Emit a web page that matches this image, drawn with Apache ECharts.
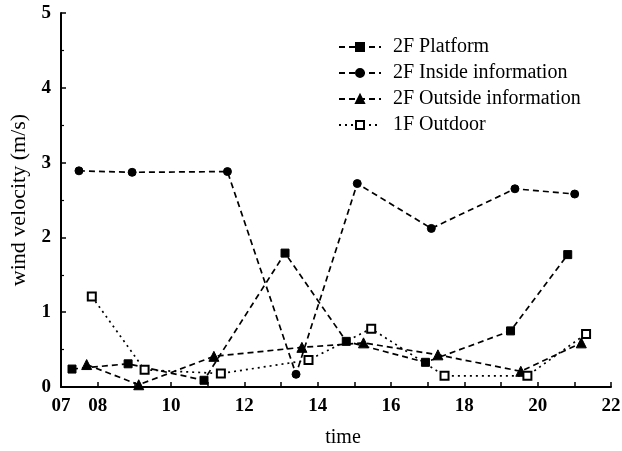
<!DOCTYPE html>
<html lang="en">
<head>
  <meta charset="UTF-8" />
  <script src="https://cdn.jsdelivr.net/npm/echarts@6/dist/echarts.min.js"></script>
  <title>wind velocity</title>
  <style>
    body { margin: 0; background: #fff; }
  </style>
</head>
<body>
  <div id="main" style="width: 622px; height: 451px;"></div>
  <script type="text/javascript">
    // x = time of day (h), y = wind velocity (m/s)
    var platform = [[7.30, 0.24], [8.83, 0.31], [10.90, 0.09], [13.11, 1.79], [14.78, 0.61], [16.94, 0.33], [19.26, 0.75], [20.82, 1.77]];
    var inside = [[7.49, 2.89], [8.94, 2.87], [11.54, 2.88], [13.41, 0.17], [15.08, 2.72], [17.10, 2.12], [19.38, 2.65], [21.01, 2.58]];
    var outside = [[7.70, 0.30], [9.12, 0.03], [11.17, 0.41], [13.57, 0.53], [15.25, 0.59], [17.28, 0.43], [19.54, 0.21], [21.19, 0.59]];
    var outdoor = [[7.84, 1.21], [9.28, 0.23], [11.36, 0.18], [13.75, 0.36], [15.46, 0.78], [17.46, 0.15], [19.72, 0.15], [21.32, 0.71]];
    var seriesNames = ["2F Platform", "2F Inside information", "2F Outside information", "1F Outdoor"];

    var serif = "Liberation Serif";

    function lineSeries(name, data, symbol, size, dash) {
      return {
        name: name,
        type: "line",
        data: data,
        symbol: symbol,
        symbolSize: size,
        itemStyle: { color: "#000", borderColor: "#000", borderWidth: 1 },
        lineStyle: { color: "#000", width: 1.7, type: dash },
        emphasis: { disabled: true },
        z: 3
      };
    }

    var myChart = echarts.init(document.getElementById("main"));
    myChart.setOption({
      animation: false,
      grid: { left: 61, right: 11, top: 13, bottom: 64, containLabel: false, outerBoundsMode: "none" },
      legend: {
        orient: "vertical",
        left: 333,
        top: 32,
        itemWidth: 42,
        itemHeight: 10,
        itemGap: 6,
        data: seriesNames,
        textStyle: { fontFamily: serif, fontSize: 20, color: "#000", padding: [0, 0, 0, 7] }
      },
      xAxis: {
        type: "value",
        min: 7,
        max: 22,
        interval: 1,
        name: "time",
        nameLocation: "middle",
        nameGap: 41,
        nameTextStyle: { fontFamily: serif, fontSize: 20, color: "#000", padding: [0, 0, 0, 14] },
        axisLine: { lineStyle: { color: "#000", width: 2 } },
        axisTick: { inside: true, length: 5, lineStyle: { color: "#000", width: 1.5 } },
        splitLine: { show: false },
        axisLabel: {
          fontFamily: serif,
          fontSize: 19,
          fontWeight: "bold",
          color: "#000",
          margin: 10,
          formatter: function (v) {
            if (v === 7) return "07";
            if (v === 8) return "08";
            return v % 2 === 0 ? String(v) : "";
          }
        }
      },
      yAxis: {
        type: "value",
        min: 0,
        max: 5,
        interval: 1,
        name: "wind velocity (m/s)",
        nameLocation: "middle",
        nameGap: 25,
        nameRotate: 90,
        nameTextStyle: { fontFamily: serif, fontSize: 22, color: "#000" },
        axisLine: { show: true, lineStyle: { color: "#000", width: 2 } },
        axisTick: { show: true, inside: true, length: 5, lineStyle: { color: "#000", width: 1.5 } },
        minorTick: { show: true, splitNumber: 2, length: 3, lineStyle: { color: "#000", width: 1.2 } },
        splitLine: { show: false },
        axisLabel: {
          fontFamily: serif,
          fontSize: 19,
          fontWeight: "bold",
          color: "#000",
          margin: 10
        }
      },
      series: [
        lineSeries(seriesNames[0], platform, "rect", 8, [6, 4]),
        lineSeries(seriesNames[1], inside, "circle", 8, [6, 4]),
        lineSeries(seriesNames[2], outside, "triangle", 10, [6, 4]),
        lineSeries(seriesNames[3], outdoor, "emptyRect", 8, [2, 4])
      ]
    });
  </script>
</body>
</html>
